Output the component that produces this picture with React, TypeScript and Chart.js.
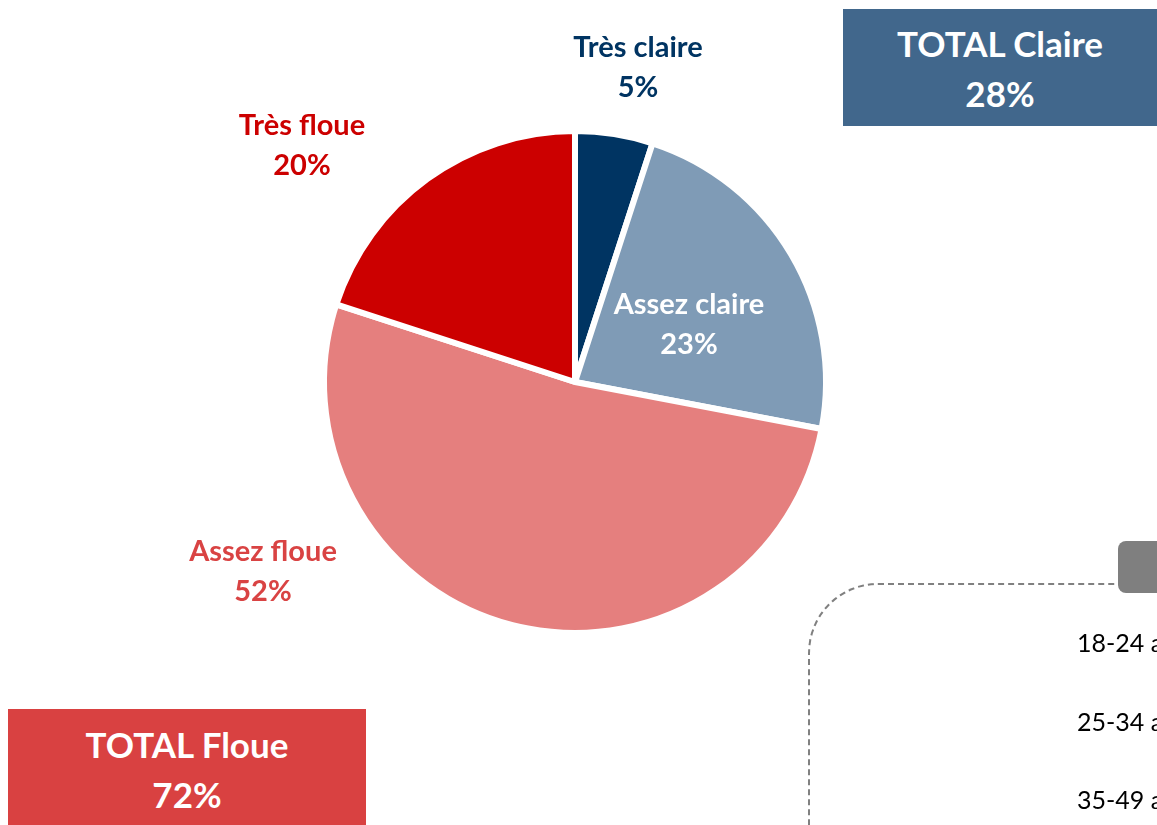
import React, { useEffect, useRef } from 'react';
import { Chart, registerables } from 'chart.js';

Chart.register(...registerables);

const categories = ['Très claire', 'Assez claire', 'Assez floue', 'Très floue'];
const values = [5, 23, 52, 20];
const sliceColors = ['#003462', '#7f9bb6', '#e57f7e', '#cc0000'];
const labelColors = ['#003462', '#ffffff', '#d94343', '#cc0000'];
// label block centres relative to the pie centre (layout, not data)
const labelAnchors = [
  [63, -314],
  [114, -57],
  [-312, 190],
  [-273, -236],
];
const totalLabels = ['TOTAL Claire', 'TOTAL Floue'];
const totalValues = [values[0] + values[1], values[2] + values[3]];
const ageGroups = ['18-24 ans', '25-34 ans', '35-49 ans'];

const labelPlugin = {
  id: 'sliceLabels',
  afterDatasetsDraw(chart: any) {
    const ctx = chart.ctx;
    const meta = chart.getDatasetMeta(0);
    ctx.save();
    ctx.font = 'bold 29px Lato';
    ctx.textAlign = 'center';
    ctx.textBaseline = 'middle';
    meta.data.forEach((arc: any, i: number) => {
      const [dx, dy] = labelAnchors[i];
      const x = arc.x + dx;
      const y = arc.y + dy;
      ctx.fillStyle = labelColors[i];
      ctx.fillText(categories[i], x, y - 20);
      ctx.fillText(values[i] + '%', x, y + 20);
    });
    ctx.restore();
  },
};

export default function App() {
  const canvasRef = useRef<HTMLCanvasElement | null>(null);

  useEffect(() => {
    if (!canvasRef.current) return;
    const chart = new Chart(canvasRef.current, {
      type: 'pie',
      data: {
        labels: categories,
        datasets: [
          {
            data: values,
            backgroundColor: sliceColors,
            borderColor: '#ffffff',
            borderWidth: 6,
          },
        ],
      },
      options: {
        animation: false,
        responsive: false,
        devicePixelRatio: 1,
        events: [],
        radius: 251,
        layout: { padding: { left: 0, right: 7, top: 0, bottom: 61 } },
        plugins: {
          legend: { display: false },
          tooltip: { enabled: false },
        },
      } as any,
      plugins: [labelPlugin],
    });
    return () => chart.destroy();
  }, []);

  const boxText: React.CSSProperties = {
    color: '#ffffff',
    fontWeight: 700,
    fontSize: 35,
    lineHeight: '50px',
    textAlign: 'center',
    position: 'absolute',
  };

  return (
    <div
      style={{
        position: 'absolute',
        left: 0,
        top: 0,
        width: 1157,
        height: 825,
        overflow: 'hidden',
        background: '#ffffff',
        fontFamily: 'Lato, sans-serif',
      }}
    >
      <canvas
        ref={canvasRef}
        width={1157}
        height={825}
        style={{ position: 'absolute', left: 0, top: 0, width: 1157, height: 825 }}
      />
      <div
        style={{
          ...boxText,
          left: 843,
          top: 9,
          width: 314,
          height: 117,
          background: '#41678c',
          paddingTop: 9,
          boxSizing: 'border-box',
        }}
      >
        <div>{totalLabels[0]}</div>
        <div>{totalValues[0]}%</div>
      </div>
      <div
        style={{
          ...boxText,
          left: 8,
          top: 709,
          width: 358,
          height: 130,
          background: '#d94141',
          paddingTop: 10,
          boxSizing: 'border-box',
        }}
      >
        <div>{totalLabels[1]}</div>
        <div>{totalValues[1]}%</div>
      </div>
      <div
        style={{
          position: 'absolute',
          left: 808,
          top: 583,
          width: 600,
          height: 400,
          border: '2px dashed #808080',
          borderTopLeftRadius: 70,
          boxSizing: 'border-box',
        }}
      />
      <div
        style={{
          position: 'absolute',
          left: 1118,
          top: 541,
          width: 120,
          height: 52,
          background: '#7f7f7f',
          borderRadius: 8,
        }}
      />
      {ageGroups.map((g, i) => (
        <div
          key={g}
          style={{
            position: 'absolute',
            left: 1077,
            top: 626 + i * 78.5,
            fontSize: 25,
            lineHeight: '32px',
            color: '#000000',
            whiteSpace: 'nowrap',
          }}
        >
          {g}
        </div>
      ))}
    </div>
  );
}
